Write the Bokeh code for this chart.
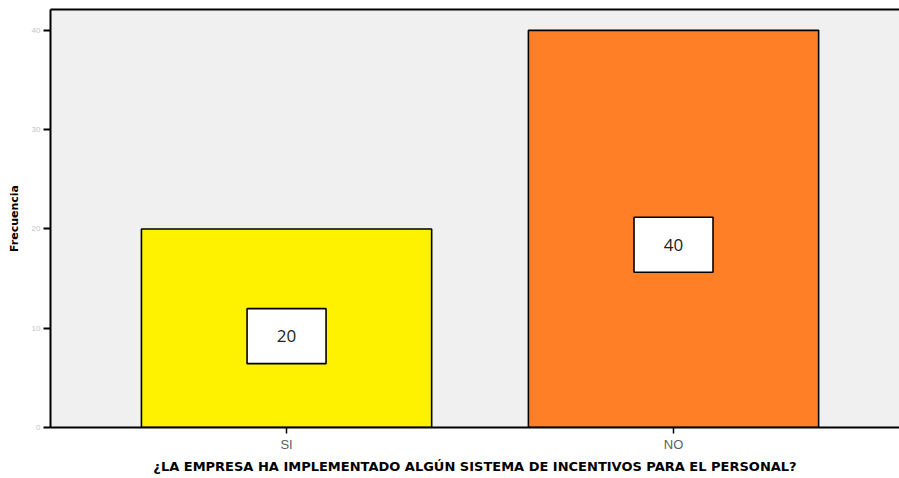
from bokeh.plotting import figure
from bokeh.models import Range1d, LinearAxis, FixedTicker, ColumnDataSource
from bokeh.core.properties import value
from bokeh.embed import file_html
from bokeh.resources import INLINE

categories = ["SI", "NO"]
frequencies = [20, 40]
bar_colors = ["#FFF200", "#FF7F27"]
y_ticks = [0, 10, 20, 30, 40]

x_pos = [i + 0.5 for i in range(len(categories))]
label_y = [v * 0.46 for v in frequencies]
src = ColumnDataSource(dict(x=x_pos, top=frequencies, color=bar_colors,
                            ly=label_y, txt=[str(v) for v in frequencies]))

p = figure(width=899, height=478, output_backend="svg", toolbar_location=None,
           x_range=Range1d(-0.11, 2.084), y_range=Range1d(0, 42.1),
           min_border_left=50, min_border_right=0, min_border_top=9, min_border_bottom=51)
p.background_fill_color = "#F0F0F0"
p.border_fill_color = "white"
p.outline_line_color = None
p.grid.visible = False

p.vbar(x="x", top="top", bottom=0, width=0.75, fill_color="color",
       line_color="black", line_width=1.6, source=src)
p.rect(x="x", y="ly", width=79, height=55, width_units="screen", height_units="screen",
       fill_color="white", line_color="black", line_width=1.6, source=src)
p.text(x="x", y="ly", text="txt", text_align="center", text_baseline="middle",
       text_font=value("Open Sans"), text_font_size="17px", text_color="#222222", source=src)

# y axis
ya = p.yaxis[0]
ya.ticker = FixedTicker(ticks=y_ticks)
ya.minor_tick_line_color = None
ya.major_tick_in = 0
ya.major_tick_out = 7
ya.major_tick_line_width = 2
ya.axis_line_width = 2
ya.major_label_text_color = "#C4C4C4"
ya.major_label_text_font_size = "8px"
ya.major_label_standoff = 3
ya.axis_label = "Frecuencia"
ya.axis_label_text_font = "DejaVu Sans"
ya.axis_label_text_font_style = "bold"
ya.axis_label_text_font_size = "11px"
ya.axis_label_text_color = "black"
ya.axis_label_standoff = 8

# x axis
xa = p.xaxis[0]
xa.ticker = FixedTicker(ticks=x_pos)
xa.major_label_overrides = {x: c for x, c in zip(x_pos, categories)}
xa.minor_tick_line_color = None
xa.major_tick_in = 0
xa.major_tick_out = 6
xa.major_tick_line_width = 1.5
xa.axis_line_width = 2
xa.major_label_text_color = "#606060"
xa.major_label_text_font = "Liberation Sans"
xa.major_label_text_font_size = "13px"
xa.major_label_standoff = 3
xa.axis_label = "¿LA EMPRESA HA IMPLEMENTADO ALGÚN SISTEMA DE INCENTIVOS PARA EL PERSONAL?"
xa.axis_label_text_font = "DejaVu Sans"
xa.axis_label_text_font_style = "bold"
xa.axis_label_text_font_size = "13px"
xa.axis_label_text_color = "black"
xa.axis_label_standoff = 4

# top border line
top = LinearAxis(ticker=FixedTicker(ticks=[]), axis_line_width=2,
                 major_label_text_font_size="0px", major_tick_line_color=None,
                 minor_tick_line_color=None)
p.add_layout(top, "above")

open("out.html", "w").write(file_html(p, INLINE))
